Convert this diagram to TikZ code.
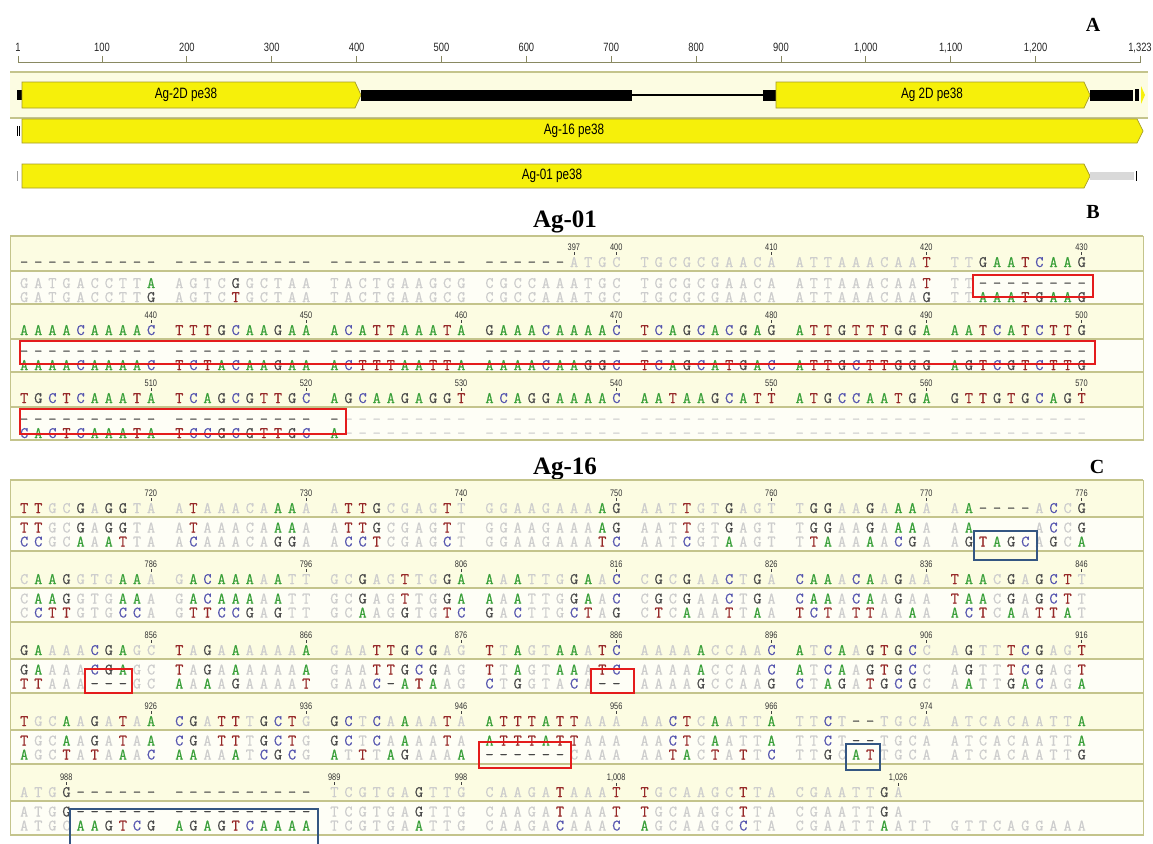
\documentclass[tikz,border=0pt]{standalone}
\usepackage{fontspec}
\setmainfont{Liberation Serif}
\newfontfamily\condfont[FakeStretch=0.78]{Liberation Sans}
\newfontfamily\seqmono[FakeBold=0.5]{Latin Modern Mono}
\usetikzlibrary{positioning}

\definecolor{ntA}{RGB}{58,160,58}
\definecolor{ntC}{RGB}{85,85,175}
\definecolor{ntG}{RGB}{75,75,75}
\definecolor{ntT}{RGB}{150,40,40}
\definecolor{ntfade}{RGB}{205,205,205}
\definecolor{ntgap}{RGB}{70,70,70}
\definecolor{bandyel}{RGB}{252,252,226}
\definecolor{bandwht}{RGB}{254,254,246}
\definecolor{ruleol}{RGB}{196,196,140}
\definecolor{geneyel}{RGB}{246,240,10}
\definecolor{geneedge}{RGB}{165,155,40}
\definecolor{boxred}{RGB}{228,28,28}
\definecolor{boxblue}{RGB}{52,86,130}

\newlength\ntw
\setlength\ntw{14.1pt}
\newcommand\seqfont{\seqmono\fontsize{16}{16}\selectfont}
\newcommand\numfont{\condfont\fontsize{9.5}{9.5}\selectfont}

% one alignment row: capital = coloured base, small = faded base,
% '-' gap, '=' faded gap, '.' empty column
\ExplSyntaxOn
\NewDocumentCommand\dnarow{m}
  {
    \str_map_inline:nn {#1}
      {
        \makebox[\ntw]
          {
            \str_case:nnF {##1}
              {
                {A}{\textcolor{ntA}{A}}
                {C}{\textcolor{ntC}{C}}
                {G}{\textcolor{ntG}{G}}
                {T}{\textcolor{ntT}{T}}
                {a}{\textcolor{ntfade}{A}}
                {c}{\textcolor{ntfade}{C}}
                {g}{\textcolor{ntfade}{G}}
                {t}{\textcolor{ntfade}{T}}
                {-}{\textcolor{ntgap}{-}}
                {=}{\textcolor{ntfade}{-}}
                {.}{}
              }
              {}
          }
      }
  }
\ExplSyntaxOff

\begin{document}
\begin{tikzpicture}[
    x=1pt, y=-1pt,
    seqrow/.style={anchor=base west, inner sep=0pt, font=\seqfont},
    numlab/.style={anchor=base, inner sep=0pt, font=\numfont, text=black!80},
    tickmark/.style={black!75, line width=0.7pt},
    title/.style={font=\fontsize{25}{25}\selectfont\bfseries, inner sep=0pt},
    panel/.style={font=\fontsize{20}{20}\selectfont\bfseries, inner sep=0pt},
    sepline/.style={draw=ruleol, line width=1.4pt},
    frameline/.style={draw=ruleol, line width=0.8pt},
    redbox/.style={draw=boxred, line width=2.6pt},
    bluebox/.style={draw=boxblue, line width=2.6pt},
    gene/.style={fill=geneyel, draw=geneedge, line width=0.7pt},
    genelab/.style={font=\condfont\fontsize{15}{15}\selectfont, inner sep=0pt},
    rulerlab/.style={font=\condfont\fontsize{12}{12}\selectfont, anchor=base, inner sep=0pt, text=black!85}
]
\fill[white] (0,0) rectangle (1153,843);
\useasboundingbox (0,0) rectangle (1153,843);

% ---------------- A: map
\node[panel] (labA) at (1093,25) {A};
\draw[ruleol!70!black, line width=1pt] (18,63) -- (1140,63);
\foreach \p/\lab in {1/1,100/100,200/200,300/300,400/400,500/500,600/600,700/700,800/800,900/900,1000/{1,000},1100/{1,100},1200/{1,200},1323/{1,323}} {
  \draw[ruleol!70!black, line width=0.8pt] ({18+(\p-1)*0.8487},56) -- ({18+(\p-1)*0.8487},63);
  \node[rulerlab] (rul\p) at ({18+(\p-1)*0.8487},52) {\lab};
}
\fill[bandyel] (10,72) rectangle (1148,118);
\draw[sepline] (10,72) -- (1148,72);
\draw[sepline] (10,118) -- (1148,118);

% Ag-2D
\fill[black] (17,90) rectangle (22,100);
\draw[gene] (22,82) -- (355,82) -- (361,95) -- (355,108) -- (22,108) -- cycle;
\node[genelab] (g2da) at (186,95) {Ag-2D pe38};
\fill[black] (361,89.5) rectangle (632,100.5);
\fill[black] (632,94.3) rectangle (763,95.7);
\fill[black] (763,89.5) rectangle (776,100.5);
\draw[gene] (776,82) -- (1084,82) -- (1090,95) -- (1084,108) -- (776,108) -- cycle;
\node[genelab] (g2db) at (932,95) {Ag 2D pe38};
\fill[black] (1090,89.5) rectangle (1133,100.5);
\fill[black] (1135,89) rectangle (1139,101);
\fill[geneyel] (1141,86) -- (1145,95) -- (1141,104) -- cycle;

% Ag-16
\fill[black] (16.5,126) rectangle (17.5,136);
\fill[black] (18.5,126) rectangle (19.5,136);
\draw[gene] (22,119) -- (1137,119) -- (1143,131) -- (1137,143) -- (22,143) -- cycle;
\node[genelab] (g16) at (574,131) {Ag-16 pe38};

% Ag-01
\fill[black!40] (16.5,171) rectangle (17.5,181);
\draw[gene] (22,164) -- (1084,164) -- (1090,176) -- (1084,188) -- (22,188) -- cycle;
\node[genelab] (g01) at (552,176) {Ag-01 pe38};
\fill[black!15] (1090,172) rectangle (1134,180);
\fill[black] (1135.5,171) rectangle (1137,181);

% ---------------- B: Ag-01
\node[title] (ttl01) at (565,222) {Ag-01};
\node[panel] (labB) at (1093,212) {B};
\foreach \t in {236,304,372} {
  \fill[bandyel] (10,\t) rectangle (1143,\t+35);
  \fill[bandwht] (10,\t+35) rectangle (1143,\t+68);
  \draw[sepline] (10,\t) -- (1143,\t);
  \draw[sepline] (10,\t+35) -- (1143,\t+35);
}
\draw[sepline] (10,440) -- (1143,440);
\draw[frameline] (10,236) rectangle (1143,440);

\begin{scope}[shift={(0,236)}]
  \foreach \i/\n in {36/397,39/400,49/410,59/420,69/430} {
    \node[numlab] (B1n\i) at ({24+(\i+int(\i/10))*14.1},14.5) {\n};
    \draw[tickmark] ([yshift=-1.5pt]B1n\i.south) -- ++(0,3);
  }
  \node[seqrow] (B1con) at (16.95,31) {\dnarow{---------- ---------- ---------- ------atgc tgcgcgaaca attaaacaaT ttGAATCAAG}};
  \node[seqrow] (B1s1) at (16.95,52) {\dnarow{gatgaccttA agtcGgctaa tactgaagcg cgccaaatgc tgcgcgaaca attaaacaaT tt--------}};
  \node[seqrow] (B1s2) at (16.95,66) {\dnarow{gatgaccttG agtcTgctaa tactgaagcg cgccaaatgc tgcgcgaaca attaaacaaG ttAAATGAAG}};
  \draw[redbox] (973,39) rectangle (1093,61);
\end{scope}

\begin{scope}[shift={(0,304)}]
  \foreach \i/\n in {9/440,19/450,29/460,39/470,49/480,59/490,69/500} {
    \node[numlab] (B2n\i) at ({24+(\i+int(\i/10))*14.1},14.5) {\n};
    \draw[tickmark] ([yshift=-1.5pt]B2n\i.south) -- ++(0,3);
  }
  \node[seqrow] (B2con) at (16.95,31) {\dnarow{AAAACAAAAC TTTGCAAGAA ACATTAAATA GAAACAAAAC TCAGCACGAG ATTGTTTGGA AATCATCTTG}};
  \node[seqrow] (B2s1) at (16.95,52) {\dnarow{---------- ---------- ---------- ---------- ---------- ---------- ----------}};
  \node[seqrow] (B2s2) at (16.95,66) {\dnarow{AAAACAAAAC TCTACAAGAA ACTTTAATTA AAAACAAGGC TCAGCATGAC ATTGCTTGGG AGTCGTCTTG}};
  \draw[redbox] (20,37) rectangle (1095,60);
\end{scope}

\begin{scope}[shift={(0,372)}]
  \foreach \i/\n in {9/510,19/520,29/530,39/540,49/550,59/560,69/570} {
    \node[numlab] (B3n\i) at ({24+(\i+int(\i/10))*14.1},14.5) {\n};
    \draw[tickmark] ([yshift=-1.5pt]B3n\i.south) -- ++(0,3);
  }
  \node[seqrow] (B3con) at (16.95,31) {\dnarow{TGCTCAAATA TCAGCGTTGC AGCAAGAGGT ACAGGAAAAC AATAAGCATT ATGCCAATGA GTTGTGCAGT}};
  \node[seqrow] (B3s1) at (16.95,52) {\dnarow{---------- ---------- -========= ========== ========== ========== ==========}};
  \node[seqrow] (B3s2) at (16.95,66) {\dnarow{CACTCAAATA TCCGCGTTGC A========= ========== ========== ========== ==========}};
  \draw[redbox] (20,37) rectangle (346,62);
\end{scope}

% ---------------- C: Ag-16
\node[title] (ttl16) at (565,469) {Ag-16};
\node[panel] (labC) at (1097,467) {C};
\foreach \t in {480,551,622,693,764} {
  \fill[bandyel] (10,\t) rectangle (1143,\t+37);
  \fill[bandwht] (10,\t+37) rectangle (1143,\t+71);
  \draw[sepline] (10,\t) -- (1143,\t);
  \draw[sepline] (10,\t+37) -- (1143,\t+37);
}
\draw[sepline] (10,835) -- (1143,835);
\draw[frameline] (10,480) rectangle (1143,835);

\begin{scope}[shift={(0,480)}]
  \foreach \i/\n in {9/720,19/730,29/740,39/750,49/760,59/770,69/776} {
    \node[numlab] (C1n\i) at ({24+(\i+int(\i/10))*14.1},16.5) {\n};
    \draw[tickmark] ([yshift=-1.5pt]C1n\i.south) -- ++(0,3);
  }
  \node[seqrow] (C1con) at (16.95,33) {\dnarow{TTgcGaGGta aTaaacaAAa aTTGcgagTt ggaagaaaAG aatTgtGagt tGGaaGaAAa aA----aCcG}};
  \node[seqrow] (C1s1) at (16.95,52.5) {\dnarow{TTgcGaGGta aTaaacaAAa aTTGcgagTt ggaagaaaAG aatTgtGagt tGGaaGaAAa aA....aCcG}};
  \node[seqrow] (C1s2) at (16.95,66.5) {\dnarow{CCgcAaATta aCaaacaGGa aCCTcgagCt ggaagaaaTC aatCgtAagt tTAaaAaCGa aGTAGCaGcA}};
  \draw[bluebox] (974,51) rectangle (1037,80);
\end{scope}

\begin{scope}[shift={(0,551)}]
  \foreach \i/\n in {9/786,19/796,29/806,39/816,49/826,59/836,69/846} {
    \node[numlab] (C2n\i) at ({24+(\i+int(\i/10))*14.1},16.5) {\n};
    \draw[tickmark] ([yshift=-1.5pt]C2n\i.south) -- ++(0,3);
  }
  \node[seqrow] (C2con) at (16.95,33) {\dnarow{cAAGgtgAAa gACAAAaAtt gcGagTtgGA AaAttgGAaC cGcGaaCtGa CAAaCAaGaa TAAcGaGCTt}};
  \node[seqrow] (C2s1) at (16.95,52.5) {\dnarow{cAAGgtgAAa gACAAAaAtt gcGagTtgGA AaAttgGAaC cGcGaaCtGa CAAaCAaGaa TAAcGaGCTt}};
  \node[seqrow] (C2s2) at (16.95,66.5) {\dnarow{cCTTgtgCCa gTTCCGaGtt gcAagGtgTC GaCttgCTaG cTcAaaTtAa TCTaTTaaAa ACTcAaTTAt}};
\end{scope}

\begin{scope}[shift={(0,622)}]
  \foreach \i/\n in {9/856,19/866,29/876,39/886,49/896,59/906,69/916} {
    \node[numlab] (C3n\i) at ({24+(\i+int(\i/10))*14.1},16.5) {\n};
    \draw[tickmark] ([yshift=-1.5pt]C3n\i.south) -- ++(0,3);
  }
  \node[seqrow] (C3con) at (16.95,33) {\dnarow{GAaaaCGAgc TaGaAaaaaA gaaTTGCGag TtAgtAAaTC aaaaAccaaC AtCAaGTGCc aGttTCGagT}};
  \node[seqrow] (C3s1) at (16.95,52.5) {\dnarow{GAaaaCGAgc TaGaAaaaaA gaaTTGCGag TtAgtAAaTC aaaaAccaaC AtCAaGTGCc aGttTCGagT}};
  \node[seqrow] (C3s2) at (16.95,66.5) {\dnarow{TTaaa---gc AaAaGaaaaT gaaC-ATAag CtGgtaCa-- aaaaGccaaG CtAGaTGCGc aAttGACagA}};
  \draw[redbox] (85,47) rectangle (132,71);
  \draw[redbox] (591,47) rectangle (634,71);
\end{scope}

\begin{scope}[shift={(0,693)}]
  \foreach \i/\n in {9/926,19/936,29/946,39/956,49/966,59/974} {
    \node[numlab] (C4n\i) at ({24+(\i+int(\i/10))*14.1},16.5) {\n};
    \draw[tickmark] ([yshift=-1.5pt]C4n\i.south) -- ++(0,3);
  }
  \node[seqrow] (C4con) at (16.95,33) {\dnarow{TgcAaGaTaA CGaTTtGCTg GCtCaAaaTa ATTTATTaaa aaCTcAattA ttCt--tgca atcacaattA}};
  \node[seqrow] (C4s1) at (16.95,52.5) {\dnarow{TgcAaGaTaA CGaTTtGCTg GCtCaAaaTa ATTTATTaaa aaCTcAattA ttCt--tgca atcacaattA}};
  \node[seqrow] (C4s2) at (16.95,66.5) {\dnarow{AgcTaTaAaC AAaaAtCGCg AtTtAGaaaA ------caaa aaTAcTaTtC ttGcATtgca atcacaattG}};
  \draw[redbox] (479,49) rectangle (571,75);
  \draw[bluebox] (846,51) rectangle (880,77);
\end{scope}

\begin{scope}[shift={(0,764)}]
  \foreach \i/\n in {3/988,20/989,29/998,39/{1,008},57/{1,026}} {
    \node[numlab] (C5n\i) at ({24+(\i+int(\i/10))*14.1},16.5) {\n};
    \draw[tickmark] ([yshift=-1.5pt]C5n\i.south) -- ++(0,3);
  }
  \node[seqrow] (C5con) at (16.95,33) {\dnarow{atgG------ ---------- tcgtgaGttg caagaTaaaT TgcaagcTta cgaattGa.. ..........}};
  \node[seqrow] (C5s1) at (16.95,52.5) {\dnarow{atgG------ ---------- tcgtgaGttg caagaTaaaT TgcaagcTta cgaattGa.. ..........}};
  \node[seqrow] (C5s2) at (16.95,66.5) {\dnarow{atgcAAGTCG AGAGTCAAAA tcgtgaAttg caagaCaaaC AgcaagcCta cgaattAatt gttcaggaaa}};
  \draw[bluebox] (70,45) rectangle (318,82);
\end{scope}
\end{tikzpicture}
\end{document}
